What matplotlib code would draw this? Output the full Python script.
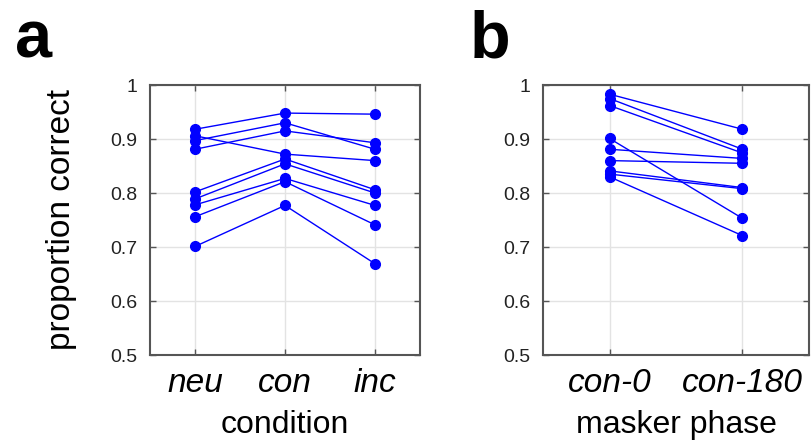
import matplotlib
matplotlib.use('Agg')
import matplotlib.pyplot as plt

plt.rcParams['font.family'] = ['Liberation Sans', 'DejaVu Sans']

# panel a: per-subject proportion correct in neu / con / inc
cond_labels = ['neu', 'con', 'inc']
neu = [0.918, 0.906, 0.897, 0.881, 0.802, 0.789, 0.778, 0.756, 0.701]
con = [0.948, 0.872, 0.930, 0.915, 0.863, 0.854, 0.827, 0.821, 0.777]
inc = [0.946, 0.860, 0.881, 0.893, 0.806, 0.800, 0.777, 0.741, 0.669]

# panel b: con-0 vs con-180 masker phase
phase_labels = ['con-0', 'con-180']
con0 = [0.983, 0.975, 0.962, 0.901, 0.881, 0.860, 0.841, 0.835, 0.830]
con180 = [0.918, 0.881, 0.874, 0.753, 0.864, 0.855, 0.810, 0.808, 0.721]

yticks = [0.5, 0.6, 0.7, 0.8, 0.9, 1.0]
ytick_labels = ['0.5', '0.6', '0.7', '0.8', '0.9', '1']

blue = '#0000ff'
spine_col = '#555555'


def style_axes(ax, n, labels, xlabel):
    ax.set_xlim(0.5, n + 0.5)
    ax.set_ylim(0.5, 1.0)
    ax.set_xticks(range(1, n + 1))
    ax.set_xticklabels(labels, fontstyle='italic', fontsize=24)
    ax.set_yticks(yticks)
    ax.set_yticklabels(ytick_labels, fontsize=14, color='#222222')
    ax.set_xlabel(xlabel, fontsize=23, labelpad=8)
    ax.grid(True, color='#e3e3e3', linewidth=1.0)
    ax.set_axisbelow(True)
    ax.tick_params(direction='in', top=True, right=True, length=4,
                   width=1.0, color=spine_col)
    ax.tick_params(axis='y', pad=9)
    ax.tick_params(axis='x', pad=9)
    for s in ax.spines.values():
        s.set_color(spine_col)
        s.set_linewidth(1.5)


fig = plt.figure(figsize=(8.12, 4.45), dpi=100)
ax1 = fig.add_axes([150 / 812, 90 / 445, 270 / 812, 270 / 445])
ax2 = fig.add_axes([543 / 812, 90 / 445, 266 / 812, 270 / 445])

for a, b, c in zip(neu, con, inc):
    ax1.plot([1, 2, 3], [a, b, c], '-o', color=blue, linewidth=1.0,
             markersize=7, zorder=3)
style_axes(ax1, 3, cond_labels, 'condition')
ax1.set_ylabel('proportion correct', fontsize=24, labelpad=24)

for a, b in zip(con0, con180):
    ax2.plot([1, 2], [a, b], '-o', color=blue, linewidth=1.0,
             markersize=7, zorder=3)
style_axes(ax2, 2, phase_labels, 'masker phase')

fig.text(15 / 812, 1 - 57 / 445, 'a', fontsize=48, fontweight='bold')
fig.text(470 / 812, 1 - 57 / 445, 'b', fontsize=48, fontweight='bold')

fig.savefig('out.png', dpi=100)
